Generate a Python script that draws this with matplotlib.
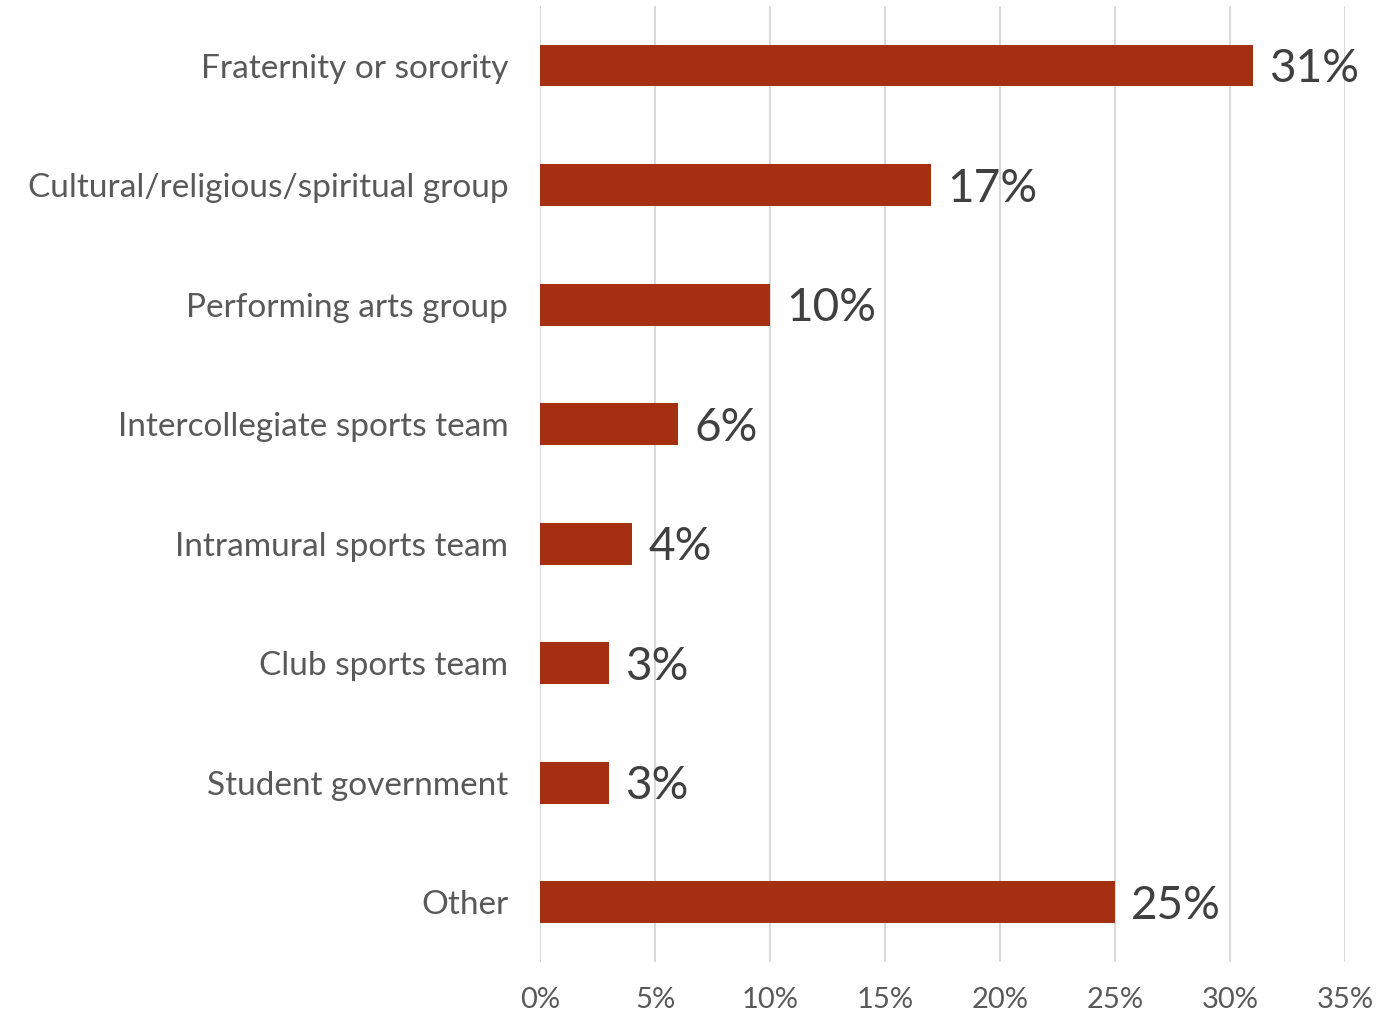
import matplotlib
matplotlib.use("Agg")
import matplotlib.pyplot as plt
from matplotlib.ticker import PercentFormatter

categories = ["Fraternity or sorority", "Cultural/religious/spiritual group",
              "Performing arts group", "Intercollegiate sports team",
              "Intramural sports team", "Club sports team",
              "Student government", "Other"]
values = [31, 17, 10, 6, 4, 3, 3, 25]
ticks = [0, 5, 10, 15, 20, 25, 30, 35]

plt.rcParams["font.family"] = ["Lato", "DejaVu Sans"]

fig = plt.figure(figsize=(13.85, 10.14), dpi=100)
ax = fig.add_axes([0.390, 0.0513, 0.581, 0.943])

y = list(range(len(categories)))
ax.barh(y, values, height=0.35, color="#A52F11", zorder=3)
for yi, v in zip(y, values):
    ax.text(v + 0.7, yi + 0.03, f"{v}%", va="center", ha="left",
            fontsize=33, color="#404040")

ax.set_ylim(len(categories) - 0.5, -0.5)
ax.set_xlim(0, 35)
ax.set_yticks(y)
ax.set_yticklabels(categories, fontsize=24, color="#595959")
ax.set_xticks(ticks)
ax.xaxis.set_major_formatter(PercentFormatter(decimals=0))
ax.tick_params(axis="x", labelsize=21, labelcolor="#595959", length=0, pad=18)
ax.tick_params(axis="y", length=0, pad=23)
ax.grid(axis="x", color="#D9D9D9", linewidth=1.5, zorder=0)
for s in ax.spines.values():
    s.set_visible(False)

fig.savefig("out.png", dpi=100)
